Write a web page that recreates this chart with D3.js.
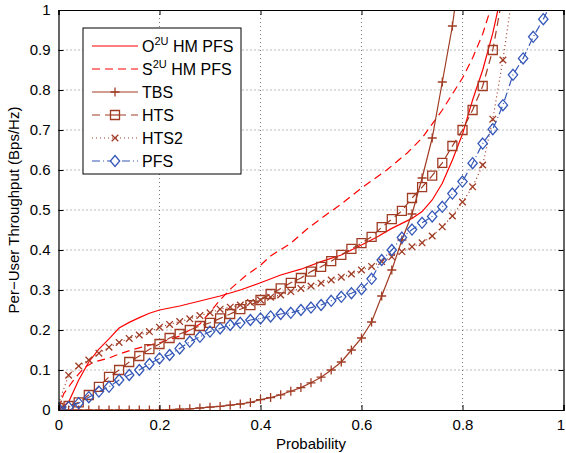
<!DOCTYPE html>
<html>
<head>
<meta charset="utf-8">
<script src="https://cdn.jsdelivr.net/npm/d3@7"></script>
<style>
body { margin: 0; background: #fff; }
text { font-family: "Liberation Sans", Arial, sans-serif; }
</style>
</head>
<body>
<div id="chart"></div>
<script>
// CDF curves
var o2uProb = [0, 0.02, 0.04, 0.06, 0.08, 0.10, 0.12, 0.14, 0.16, 0.18, 0.20, 0.24, 0.28, 0.32, 0.36, 0.40, 0.44, 0.48, 0.52, 0.56, 0.60, 0.63, 0.66, 0.70, 0.72, 0.74, 0.76, 0.78, 0.80, 0.82, 0.84, 0.86, 0.87];
var o2uVal = [0, 0.02, 0.075, 0.12, 0.152, 0.178, 0.205, 0.219, 0.231, 0.242, 0.25, 0.26, 0.2725, 0.285, 0.30, 0.318, 0.3375, 0.352, 0.371, 0.3875, 0.4125, 0.432, 0.454, 0.479, 0.496, 0.525, 0.567, 0.625, 0.69, 0.775, 0.85, 0.942, 1.0];

var s2uProb = [0, 0.01, 0.03, 0.05, 0.07, 0.10, 0.12, 0.15, 0.18, 0.20, 0.24, 0.28, 0.30, 0.32, 0.34, 0.37, 0.40, 0.42, 0.46, 0.49, 0.52, 0.56, 0.60, 0.65, 0.69, 0.72, 0.76, 0.78, 0.80, 0.82, 0.84, 0.855];
var s2uVal = [0, 0.04, 0.075, 0.105, 0.12, 0.13, 0.14, 0.152, 0.162, 0.168, 0.185, 0.215, 0.245, 0.275, 0.302, 0.335, 0.362, 0.385, 0.417, 0.45, 0.479, 0.515, 0.555, 0.60, 0.642, 0.68, 0.75, 0.79, 0.83, 0.88, 0.94, 1.0];

var tbsProb = [0, 0.02, 0.04, 0.06, 0.08, 0.10, 0.12, 0.14, 0.16, 0.18, 0.20, 0.22, 0.24, 0.26, 0.28, 0.30, 0.32, 0.34, 0.36, 0.38, 0.40, 0.42, 0.44, 0.46, 0.48, 0.50, 0.52, 0.54, 0.56, 0.58, 0.60, 0.62, 0.64, 0.66, 0.68, 0.70, 0.72, 0.74, 0.76, 0.78, 0.80];
var tbsVal = [0, 0, 0, 0, 0, 0, 0, 0, 0, 0, 0, 0.001, 0.002, 0.003, 0.005, 0.007, 0.009, 0.012, 0.015, 0.019, 0.026, 0.031, 0.038, 0.047, 0.056, 0.068, 0.082, 0.10, 0.12, 0.15, 0.18, 0.22, 0.285, 0.35, 0.425, 0.49, 0.58, 0.68, 0.82, 0.96, 1.15];

var htsProb = [0, 0.02, 0.04, 0.06, 0.08, 0.10, 0.12, 0.14, 0.16, 0.18, 0.20, 0.22, 0.24, 0.26, 0.28, 0.30, 0.32, 0.34, 0.36, 0.38, 0.40, 0.42, 0.44, 0.46, 0.48, 0.50, 0.52, 0.54, 0.56, 0.58, 0.60, 0.62, 0.64, 0.66, 0.68, 0.70, 0.72, 0.74, 0.76, 0.78, 0.80, 0.82, 0.84, 0.86, 0.88];
var htsVal = [0.005, 0.01, 0.019, 0.0375, 0.058, 0.083, 0.10, 0.12, 0.135, 0.152, 0.165, 0.18, 0.19, 0.20, 0.21, 0.218, 0.229, 0.24, 0.252, 0.262, 0.275, 0.29, 0.304, 0.318, 0.33, 0.346, 0.358, 0.372, 0.388, 0.403, 0.417, 0.433, 0.457, 0.477, 0.498, 0.53, 0.557, 0.586, 0.618, 0.66, 0.70, 0.75, 0.81, 0.90, 1.04];

var hts2Prob = [0, 0.02, 0.04, 0.06, 0.08, 0.10, 0.12, 0.14, 0.16, 0.18, 0.20, 0.22, 0.24, 0.26, 0.28, 0.30, 0.32, 0.34, 0.36, 0.38, 0.40, 0.42, 0.44, 0.46, 0.48, 0.50, 0.52, 0.54, 0.56, 0.58, 0.60, 0.62, 0.64, 0.66, 0.68, 0.70, 0.72, 0.74, 0.76, 0.78, 0.80, 0.82, 0.84, 0.86, 0.88, 0.90];
var hts2Val = [0.015, 0.087, 0.11, 0.125, 0.142, 0.157, 0.169, 0.179, 0.1875, 0.196, 0.207, 0.214, 0.221, 0.228, 0.236, 0.243, 0.252, 0.257, 0.2625, 0.269, 0.275, 0.282, 0.2875, 0.296, 0.304, 0.31, 0.317, 0.325, 0.332, 0.34, 0.35, 0.359, 0.371, 0.383, 0.396, 0.408, 0.418, 0.435, 0.458, 0.485, 0.52, 0.558, 0.6125, 0.727, 0.875, 1.05];

var pfsProb = [0, 0.02, 0.04, 0.06, 0.08, 0.10, 0.12, 0.14, 0.16, 0.18, 0.20, 0.22, 0.24, 0.26, 0.28, 0.30, 0.32, 0.34, 0.36, 0.38, 0.40, 0.42, 0.44, 0.46, 0.48, 0.50, 0.52, 0.54, 0.56, 0.58, 0.60, 0.62, 0.64, 0.66, 0.68, 0.70, 0.72, 0.74, 0.76, 0.78, 0.80, 0.82, 0.84, 0.86, 0.88, 0.90, 0.92, 0.94, 0.96, 0.98];
var pfsVal = [0.004, 0.007, 0.017, 0.032, 0.046, 0.058, 0.075, 0.0875, 0.10, 0.115, 0.129, 0.1375, 0.154, 0.171, 0.183, 0.196, 0.204, 0.2125, 0.218, 0.225, 0.229, 0.234, 0.24, 0.243, 0.25, 0.256, 0.2625, 0.273, 0.283, 0.292, 0.302, 0.328, 0.375, 0.40, 0.431, 0.451, 0.468, 0.484, 0.508, 0.541, 0.571, 0.617, 0.666, 0.702, 0.762, 0.838, 0.879, 0.933, 0.977, 1.03];

var xTicks = [0, 0.2, 0.4, 0.6, 0.8, 1];
var yTicks = [0, 0.1, 0.2, 0.3, 0.4, 0.5, 0.6, 0.7, 0.8, 0.9, 1];

var red = "#ff0000", brown = "#a03c24", blue = "#3457b8";

var series = [
    {name: ["O", "2U", " HM PFS"], prob: o2uProb, val: o2uVal, color: red, dash: null, marker: null},
    {name: ["S", "2U", " HM PFS"], prob: s2uProb, val: s2uVal, color: red, dash: "8,5", marker: null},
    {name: ["TBS"], prob: tbsProb, val: tbsVal, color: brown, dash: null, marker: "plus"},
    {name: ["HTS"], prob: htsProb, val: htsVal, color: brown, dash: "8,5", marker: "square"},
    {name: ["HTS2"], prob: hts2Prob, val: hts2Val, color: brown, dash: "1,3", marker: "times"},
    {name: ["PFS"], prob: pfsProb, val: pfsVal, color: blue, dash: "8,3,1,3", marker: "diamond"}
];

var margin = {top: 10, right: 2.5, bottom: 43, left: 58.5};
var width = 566 - margin.left - margin.right,
    height = 453 - margin.top - margin.bottom;

var svg = d3.select("#chart").append("svg")
    .attr("width", 566)
    .attr("height", 453)
    .append("g")
    .attr("transform", "translate(" + margin.left + "," + margin.top + ")");

var x = d3.scaleLinear().domain([0, 1]).range([0, width]);
var y = d3.scaleLinear().domain([0, 1]).range([height, 0]);

svg.append("defs").append("clipPath").attr("id", "plot-clip")
    .append("rect").attr("width", width).attr("height", height);

// dotted grid
svg.append("g").selectAll("line")
    .data(xTicks.slice(1, -1))
    .enter().append("line")
    .attr("x1", function (d) { return x(d); })
    .attr("x2", function (d) { return x(d); })
    .attr("y1", 0).attr("y2", height)
    .attr("stroke", "#555").attr("stroke-width", 0.8)
    .attr("stroke-dasharray", "1,3");

svg.append("g").selectAll("line")
    .data(yTicks.slice(1, -1))
    .enter().append("line")
    .attr("y1", function (d) { return y(d); })
    .attr("y2", function (d) { return y(d); })
    .attr("x1", 0).attr("x2", width)
    .attr("stroke", "#555").attr("stroke-width", 0.8)
    .attr("stroke-dasharray", "1,3");

function markerPath(type, s) {
    if (type === "plus") return "M" + (-s) + ",0H" + s + "M0," + (-s) + "V" + s;
    if (type === "times") return "M" + (-s) + "," + (-s) + "L" + s + "," + s + "M" + (-s) + "," + s + "L" + s + "," + (-s);
    if (type === "square") return "M" + (-s) + "," + (-s) + "H" + s + "V" + s + "H" + (-s) + "Z";
    if (type === "diamond") return "M0," + (-s) + "L" + (s * 0.85) + ",0L0," + s + "L" + (-s * 0.85) + ",0Z";
    return "";
}
var markerSize = {plus: 4.5, times: 3.3, square: 4.5, diamond: 5.5};

var plot = svg.append("g").attr("clip-path", "url(#plot-clip)");

var line = d3.line()
    .x(function (d) { return x(d[0]); })
    .y(function (d) { return y(d[1]); });

series.forEach(function (s) {
    var pts = s.prob.map(function (p, i) { return [p, s.val[i]]; });
    plot.append("path")
        .datum(pts)
        .attr("fill", "none")
        .attr("stroke", s.color)
        .attr("stroke-width", 1.2)
        .attr("stroke-dasharray", s.dash)
        .attr("d", line);
    if (s.marker) {
        plot.append("g").selectAll("path")
            .data(pts)
            .enter().append("path")
            .attr("transform", function (d) { return "translate(" + x(d[0]) + "," + y(d[1]) + ")"; })
            .attr("d", markerPath(s.marker, markerSize[s.marker]))
            .attr("fill", "none")
            .attr("stroke", s.color)
            .attr("stroke-width", 1.3);
    }
});

// axes, ticks pointing inwards
var xAxis = d3.axisBottom(x).tickValues(xTicks).tickFormat(d3.format("~g")).tickSize(-5).tickPadding(9);
var yAxis = d3.axisLeft(y).tickValues(yTicks).tickFormat(d3.format("~g")).tickSize(-5).tickPadding(8);

var gx = svg.append("g").attr("transform", "translate(0," + height + ")").call(xAxis);
var gy = svg.append("g").call(yAxis);
svg.append("g").call(d3.axisTop(x).tickValues(xTicks).tickSize(-5).tickFormat(""));
svg.append("g").attr("transform", "translate(" + width + ",0)")
    .call(d3.axisRight(y).tickValues(yTicks).tickSize(-5).tickFormat(""));

svg.selectAll(".domain").attr("stroke", "#000").attr("stroke-width", 1.2);
svg.selectAll(".tick line").attr("stroke", "#000");
svg.selectAll(".tick text").attr("font-size", "15px").attr("fill", "#000");

// keep the last x label inside the window
gx.selectAll(".tick text").filter(function (d) { return d === 1; })
    .attr("text-anchor", "end").attr("dx", "1px");

svg.append("text")
    .attr("x", width / 2)
    .attr("y", height + 39)
    .attr("text-anchor", "middle")
    .attr("font-size", "15px")
    .text("Probability");

svg.append("text")
    .attr("transform", "translate(" + (-40) + "," + (height / 2) + ") rotate(-90)")
    .attr("text-anchor", "middle")
    .attr("font-size", "15px")
    .text("Per\u2212User Throughput (Bps/Hz)");

// legend
var legend = svg.append("g").attr("transform", "translate(" + (83 - margin.left) + "," + (28 - margin.top) + ")");
legend.append("rect")
    .attr("width", 158).attr("height", 146)
    .attr("fill", "#fff").attr("stroke", "#000").attr("stroke-width", 1);

var rowY = d3.scaleLinear().domain([0, 5]).range([18, 133]);

series.forEach(function (s, i) {
    var row = legend.append("g").attr("transform", "translate(0," + rowY(i) + ")");
    row.append("line")
        .attr("x1", 9).attr("x2", 55)
        .attr("stroke", s.color).attr("stroke-width", 1.2)
        .attr("stroke-dasharray", s.dash);
    if (s.marker) {
        row.append("path")
            .attr("transform", "translate(32,0)")
            .attr("d", markerPath(s.marker, markerSize[s.marker]))
            .attr("fill", "#fff")
            .attr("stroke", s.color)
            .attr("stroke-width", 1.3);
        if (s.marker === "square") {
            row.append("line").attr("x1", 27.5).attr("x2", 36.5)
                .attr("stroke", s.color).attr("stroke-width", 1.2);
        }
    }
    var t = row.append("text")
        .attr("x", 59)
        .attr("y", 6)
        .attr("font-size", "16px");
    t.append("tspan").text(s.name[0]);
    if (s.name.length > 1) {
        t.append("tspan").attr("dy", -7).attr("font-size", "11px").text(s.name[1]);
        t.append("tspan").attr("dy", 7).text(s.name[2]);
    }
});
</script>
</body>
</html>
